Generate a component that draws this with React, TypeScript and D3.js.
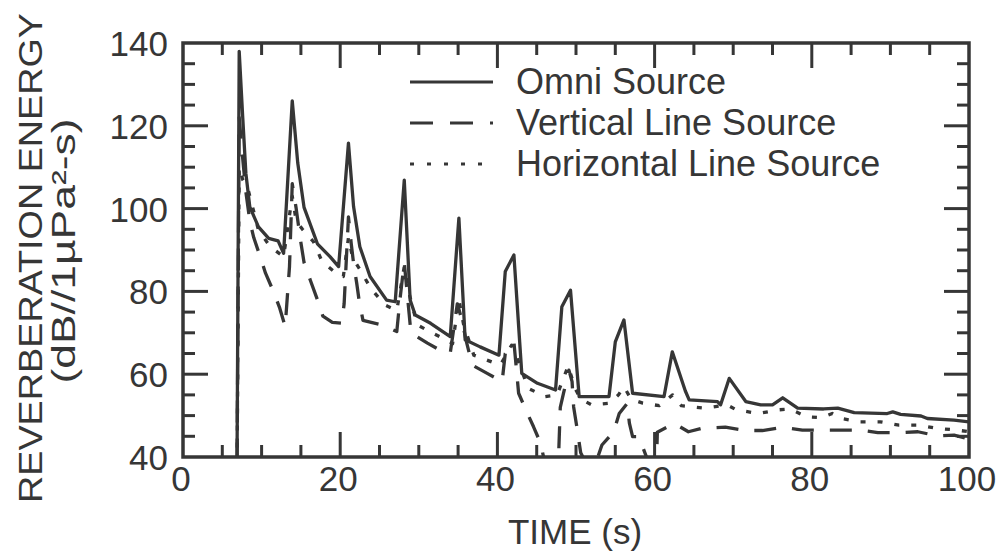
import React, { useEffect, useRef } from 'react';
import * as d3 from 'd3';

// time (s) and reverberation energy (dB)
const omniTime = [6.85, 7.15, 7.6, 8.0, 8.5, 9.6, 10.9, 12.1, 12.8, 13.9, 14.6, 15.4, 17.1, 18.7, 19.8, 21.05, 21.7, 22.5, 23.8, 25.9, 27.0, 28.15, 28.9, 29.55, 31.5, 34.0, 35.1, 35.9, 37.8, 40.2, 41.0, 42.1, 43.1, 45.1, 47.4, 48.2, 49.3, 50.4, 54.2, 55.0, 56.1, 57.2, 61.2, 62.25, 63.9, 64.4, 68.0, 68.4, 69.5, 71.6, 73.5, 75.0, 76.3, 78.2, 81.5, 83.3, 85.4, 89.6, 90.3, 91.3, 93.9, 94.7, 98.1, 100];
const omniLevel = [30, 138, 122, 108.5, 100.4, 95.6, 92.8, 92.2, 89.2, 126, 111, 100.3, 91.5, 88.4, 86, 115.8, 100.5, 90.8, 83.6, 77.9, 77.5, 106.9, 77.9, 74.3, 72.3, 69.1, 97.7, 68.3, 66.6, 64.6, 84.8, 88.8, 60.2, 57.8, 56.2, 76.3, 80.3, 54.6, 54.6, 67.8, 73.1, 55.4, 54.6, 65.4, 56, 53.8, 53.4, 52.6, 59, 53.4, 52.6, 52.6, 54.3, 51.8, 51.6, 51.8, 50.7, 50.5, 50.9, 50.3, 49.9, 49.3, 48.9, 48.5];

const vertTime = [6.85, 7.15, 7.6, 8.0, 8.5, 9.0, 9.8, 10.5, 11.5, 12.3, 13.0, 13.55, 13.9, 14.4, 14.9, 15.4, 16.2, 17.1, 17.8, 19.0, 20.2, 20.5, 21.05, 21.4, 21.7, 22.1, 22.4, 22.9, 25.3, 27.2, 27.6, 28.15, 28.6, 29.0, 31.1, 32.7, 34.0, 34.9, 35.5, 36.0, 36.8, 38.7, 40.6, 41.0, 42.1, 42.7, 43.8, 44.6, 45.5, 46.1, 47.4, 47.8, 48.0, 48.4, 49.1, 49.5, 49.7, 50.1, 50.6, 51.2, 52.6, 53.3, 54.8, 55.5, 56.5, 56.8, 57.2, 58.0, 59.2, 60.25, 60.35, 62.5, 64.3, 65.9, 69.0, 71.6, 73.7, 76.3, 78.8, 81.6, 86.2, 88.4, 91.3, 93.5, 96.0, 98.1, 100];
const vertLevel = [30, 122, 112, 104, 97, 93, 88.5, 84.4, 80, 76, 71.5, 86, 106, 100, 93, 87, 82.7, 78, 74, 72.5, 72.3, 77, 98, 91.6, 86.8, 82, 77.9, 73, 71.9, 70.3, 78, 87, 78, 70, 67.5, 65.8, 65.1, 77, 73, 68.3, 62.2, 60.2, 58.2, 65, 67.8, 55.4, 50.6, 47.3, 43.3, 38, 38.8, 41, 52, 55.3, 61, 58.2, 52.1, 47.3, 41, 38.8, 39, 42.9, 46.1, 50.5, 52.9, 48.1, 44.9, 44.9, 38.8, 39.3, 46, 48.1, 46.1, 46.9, 47.2, 46.4, 46.4, 47.2, 46.5, 46.5, 46.5, 45.9, 45.9, 46.1, 45.1, 45.3, 44.3];

const horizTime = [6.85, 7.15, 7.6, 8.3, 9.6, 11.1, 12.8, 13.9, 14.4, 15.2, 16.6, 17.7, 19.6, 20.4, 21.05, 21.6, 22.6, 23.9, 25.7, 27.2, 28.15, 28.7, 29.8, 31.7, 33.5, 34.3, 35.1, 35.7, 37.0, 39.5, 40.4, 41.8, 42.8, 43.9, 46.1, 47.6, 49.0, 49.9, 50.6, 52.0, 54.3, 55.4, 56.1, 57.0, 58.5, 60.6, 62.3, 63.4, 66.4, 69.2, 70.4, 73.2, 75.8, 77.2, 79.4, 81.2, 82.6, 83.7, 86.2, 88.7, 91.1, 93.6, 96.0, 98.5, 100];
const horizLevel = [30, 110, 107, 104.5, 94.8, 90.8, 88.4, 103, 97, 95, 92, 87.2, 84.2, 83.6, 93, 88, 85, 80.7, 76.7, 75.4, 86, 80, 71.9, 70, 68.3, 67.4, 78, 72, 64.6, 62.8, 62.3, 67, 62.5, 56.6, 54.6, 55, 62, 56.5, 54, 52.6, 53, 55, 57, 54, 53, 52.4, 55, 52.4, 51.8, 52.6, 51.4, 50.5, 51.4, 51.6, 49.7, 49.5, 50.5, 49.3, 48.5, 48.5, 47.7, 47.7, 46.9, 46.5, 46.1];

const seriesNames = ['Omni Source', 'Vertical Line Source', 'Horizontal Line Source'];
const xTickLabels = [0, 20, 40, 60, 80, 100];
const yTickLabels = [40, 60, 80, 100, 120, 140];

const App = () => {
  const svgRef = useRef<SVGSVGElement>(null);

  useEffect(() => {
    const svg = d3.select(svgRef.current);
    svg.selectAll('*').remove();

    const width = 1000;
    const height = 556;
    const margin = { top: 43, right: 31, bottom: 99, left: 183 };
    const ink = '#363636';
    const font = '"Liberation Sans", Arial, Helvetica, sans-serif';

    const x = d3.scaleLinear().domain([0, 100]).range([margin.left, width - margin.right]);
    const y = d3.scaleLinear().domain([40, 140]).range([height - margin.bottom, margin.top]);
    const [x0, x1] = x.range();
    const [y0, y1] = y.range();

    svg.append('rect').attr('width', width).attr('height', height).attr('fill', '#fff');

    svg.append('defs').append('clipPath').attr('id', 'plot-clip')
      .append('rect')
      .attr('x', x0).attr('y', y1)
      .attr('width', x1 - x0).attr('height', y0 - y1);

    // data lines, solid drawn last so it sits on top
    const series = [
      { t: horizTime, v: horizLevel, dash: '5 12' },
      { t: vertTime, v: vertLevel, dash: '22 16' },
      { t: omniTime, v: omniLevel, dash: null },
    ];
    const path = d3.line<[number, number]>()
      .x(d => x(d[0]))
      .y(d => y(d[1]));

    const g = svg.append('g').attr('clip-path', 'url(#plot-clip)');
    series.forEach(s => {
      const pts: [number, number][] = s.t.map((t, i) => [t, s.v[i]]);
      g.append('path')
        .attr('d', path(pts))
        .attr('fill', 'none')
        .attr('stroke', ink)
        .attr('stroke-width', 3.3)
        .attr('stroke-linejoin', 'round')
        .attr('stroke-dasharray', s.dash);
    });

    // ticks on all four sides, pointing inward
    const tickLen = (v: number) => (v % 20 === 0 ? 25 : 12);
    const xt = d3.range(5, 100, 5);
    const yt = d3.range(45, 140, 5);
    const ticks = svg.append('g').attr('stroke', ink).attr('stroke-width', 3);
    xt.forEach(t => {
      ticks.append('line').attr('x1', x(t)).attr('x2', x(t)).attr('y1', y0).attr('y2', y0 - tickLen(t));
      ticks.append('line').attr('x1', x(t)).attr('x2', x(t)).attr('y1', y1).attr('y2', y1 + tickLen(t));
    });
    yt.forEach(v => {
      ticks.append('line').attr('y1', y(v)).attr('y2', y(v)).attr('x1', x0).attr('x2', x0 + tickLen(v));
      ticks.append('line').attr('y1', y(v)).attr('y2', y(v)).attr('x1', x1).attr('x2', x1 - tickLen(v));
    });

    // frame
    svg.append('rect')
      .attr('x', x0).attr('y', y1)
      .attr('width', x1 - x0).attr('height', y0 - y1)
      .attr('fill', 'none')
      .attr('stroke', ink)
      .attr('stroke-width', 3.5);

    // tick labels
    svg.append('g').selectAll('text')
      .data(xTickLabels)
      .enter()
      .append('text')
      .attr('x', d => x(d) - 2)
      .attr('y', y0 + 34)
      .attr('text-anchor', 'middle')
      .attr('font-family', font)
      .attr('font-size', 35)
      .attr('fill', ink)
      .text(d => d);

    svg.append('g').selectAll('text')
      .data(yTickLabels)
      .enter()
      .append('text')
      .attr('x', x0 - 15)
      .attr('y', d => y(d) + 13)
      .attr('text-anchor', 'end')
      .attr('font-family', font)
      .attr('font-size', 35)
      .attr('fill', ink)
      .text(d => d);

    // axis titles
    svg.append('text')
      .attr('x', 575)
      .attr('y', 544)
      .attr('text-anchor', 'middle')
      .attr('font-family', font)
      .attr('font-size', 35)
      .attr('fill', ink)
      .text('TIME (s)');

    svg.append('text')
      .attr('transform', 'translate(42,258) rotate(-90)')
      .attr('text-anchor', 'middle')
      .attr('font-family', font)
      .attr('font-size', 34)
      .attr('textLength', 490)
      .attr('lengthAdjust', 'spacingAndGlyphs')
      .attr('fill', ink)
      .text('REVERBERATION ENERGY');

    svg.append('text')
      .attr('transform', 'translate(75,251) rotate(-90)')
      .attr('text-anchor', 'middle')
      .attr('font-family', font)
      .attr('font-size', 34)
      .attr('textLength', 265)
      .attr('lengthAdjust', 'spacingAndGlyphs')
      .attr('fill', ink)
      .text('(dB//1\u00b5Pa\u00b2-s)');

    // legend
    const legendDash = [null, '23 17', '4 13'];
    const legend = svg.append('g');
    seriesNames.forEach((name, i) => {
      const ly = 82 + i * 41;
      legend.append('line')
        .attr('x1', 410).attr('x2', 493)
        .attr('y1', ly).attr('y2', ly)
        .attr('stroke', ink)
        .attr('stroke-width', 3)
        .attr('stroke-dasharray', legendDash[i]);
      legend.append('text')
        .attr('x', 516)
        .attr('y', ly + 12)
        .attr('font-family', font)
        .attr('font-size', 36)
        .attr('fill', ink)
        .text(name);
    });
  }, []);

  return (
    <svg
      ref={svgRef}
      width={1000}
      height={556}
      style={{ position: 'absolute', left: 0, top: 0 }}
    />
  );
};

export default App;
